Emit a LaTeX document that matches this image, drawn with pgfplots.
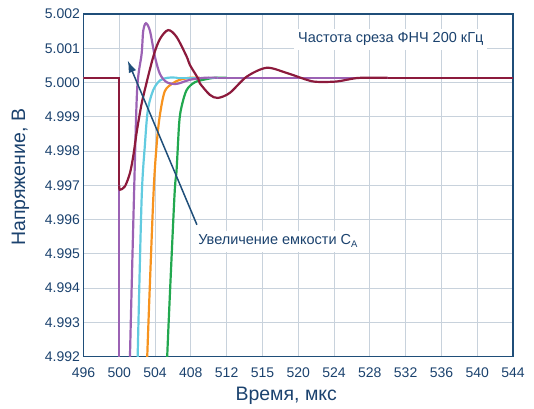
\documentclass[border=0pt]{standalone}
\usepackage{fontspec}
\setmainfont{Liberation Sans}
\usepackage{pgfplots}
\pgfplotsset{compat=1.18}
\usetikzlibrary{arrows.meta}
\definecolor{txt}{HTML}{1B426E}
\definecolor{axc}{HTML}{1F4E79}
\definecolor{gridc}{HTML}{C8D2DC}
\definecolor{maroonc}{HTML}{8C1A3C}
\definecolor{purp}{HTML}{9B62B4}
\definecolor{cyanc}{HTML}{62CBE0}
\definecolor{orng}{HTML}{F7931E}
\definecolor{grn}{HTML}{22A84F}
\begin{document}
\begin{tikzpicture}
\begin{axis}[
  scale only axis, width=430pt, height=343pt,
  xmin=496, xmax=544, ymin=4.992, ymax=5.002,
  xtick={496,500,504,508,512,516,520,524,528,532,536,540,544},
  xticklabels={496,500,504,408,512,515,520,524,528,532,536,540,544},
  ytick={4.992,4.993,4.994,4.995,4.996,4.997,4.998,4.999,5.000,5.001,5.002},
  yticklabels={4.992,4.993,4.994,4.995,4.996,4.997,4.998,4.999,5.000,5.001,5.002},
  grid=major, major grid style={gridc, line width=1pt},
  axis line style={axc, line width=1.4pt},
  major tick length=0pt,
  tick label style={font=\fontsize{14}{14}\selectfont, text=txt},
  xticklabel style={anchor=base, yshift=-21pt},
  every axis x label/.style={at={(axis description cs:0.5,0)}, anchor=base, yshift=-44pt, xshift=-12pt, font=\fontsize{19.5}{19.5}\selectfont, text=txt},
  every axis y label/.style={at={(axis description cs:0,0.5)}, xshift=-63pt, yshift=8pt, rotate=90, anchor=center, font=\fontsize{19.5}{19.5}\selectfont, text=txt},
  xlabel={Время, мкс}, ylabel={Напряжение, В},
  every axis plot/.append style={line width=2.2pt},
]
\coordinate (sw) at (rel axis cs:0,0);
\coordinate (ne) at (rel axis cs:1,1);
% green
\addplot[grn, sharp plot] coordinates {(496,5.00014) (500,5.00014) (500,4.990) (505.3,4.990)};
\addplot[grn, smooth] coordinates {(505.30,4.9910) (505.36,4.99200) (506.15,4.99658) (506.41,4.99745) (506.70,4.99882) (506.97,4.99930) (507.53,4.99978) (508.46,5.00001) (509.77,5.00010) (510.7,5.00014) (512,5.00014)};
\addplot[grn, sharp plot] coordinates {(512,5.00014) (544,5.00014)};
% orange
\addplot[orng, sharp plot] coordinates {(496,5.00014) (500,5.00014) (500,4.990) (503.1,4.990)};
\addplot[orng, smooth] coordinates {(503.08,4.9910) (503.13,4.99200) (503.80,4.99658) (504.18,4.99818) (504.55,4.99906) (505.1,4.99975) (506.0,4.99998) (506.78,5.00008) (507.9,5.00014) (509,5.00014)};
\addplot[orng, sharp plot] coordinates {(509,5.00014) (544,5.00014)};
% cyan
\addplot[cyanc, sharp plot] coordinates {(496,5.00014) (500,5.00014) (500,4.990) (502,4.990)};
\addplot[cyanc, smooth] coordinates {(502.0,4.9910) (502.06,4.99200) (502.5,4.99658) (502.87,4.99818) (503.2,4.99920) (503.8,4.99978) (504.55,5.00006) (505.47,5.00014) (506.5,5.00014)};
\addplot[cyanc, sharp plot] coordinates {(506.5,5.00014) (544,5.00014)};
% purple
\addplot[purp, sharp plot] coordinates {(496,5.00014) (500,5.00014) (500,4.990) (501.1,4.990)};
\addplot[purp, smooth] coordinates {(501.15,4.9910) (501.2,4.99200) (501.64,4.99658) (502.0,4.99978) (502.5,5.00083) (502.68,5.00150) (502.98,5.00173) (503.43,5.00151) (503.99,5.00075) (504.55,5.00025) (505.30,5.00001) (506.41,4.99996) (507.9,5.00008) (509.6,5.00014) (511,5.00014)};
\addplot[purp, sharp plot] coordinates {(511,5.00014) (544,5.00014)};
% maroon
\addplot[maroonc, sharp plot] coordinates {(496,5.00014) (500,5.00014) (500,4.99700)};
\addplot[maroonc, smooth] coordinates {(500,4.99700) (500.07,4.99687) (500.64,4.99697) (501.2,4.99736) (501.56,4.99784) (501.94,4.99853) (502.31,4.99911) (502.68,4.99959) (503.80,5.00075) (504.55,5.00127) (505.47,5.00153) (506.41,5.00133) (507.53,5.00076) (507.9,5.00051) (508.83,5.00011) (509.0,4.99998) (510.13,4.99964) (511.03,4.99955) (512.37,4.99970) (514.24,5.00017) (516.47,5.00043) (518.70,5.00028) (520.94,5.00008) (522.06,5.00002) (524.29,5.00003) (526.53,5.00013) (528.57,5.00014) (530,5.00014)};
\addplot[maroonc, sharp plot] coordinates {(530,5.00014) (544,5.00014)};
% annotations
\draw[-{Latex[length=12pt,width=8pt]}, line width=1.5pt, color=axc] (axis cs:508.68,4.99585) -- (axis cs:500.95,5.00064);
\node[fill=white, inner sep=4pt, anchor=base west, text=txt, font=\fontsize{14.5}{14.5}\selectfont] at (axis cs:508.37,4.995265) {Увеличение емкости C\raisebox{-3pt}{\fontsize{9.5}{9.5}\selectfont A}};
\node[fill=white, inner sep=4pt, anchor=base west, text=txt, font=\fontsize{14.5}{14.5}\selectfont] at (axis cs:519.52,5.00116) {Частота среза ФНЧ 200 кГц};
\end{axis}
\pgfresetboundingbox
\path ([shift={(-83.5pt,-52pt)}]sw) rectangle ([shift={(21pt,14pt)}]ne);
\end{tikzpicture}
\end{document}
